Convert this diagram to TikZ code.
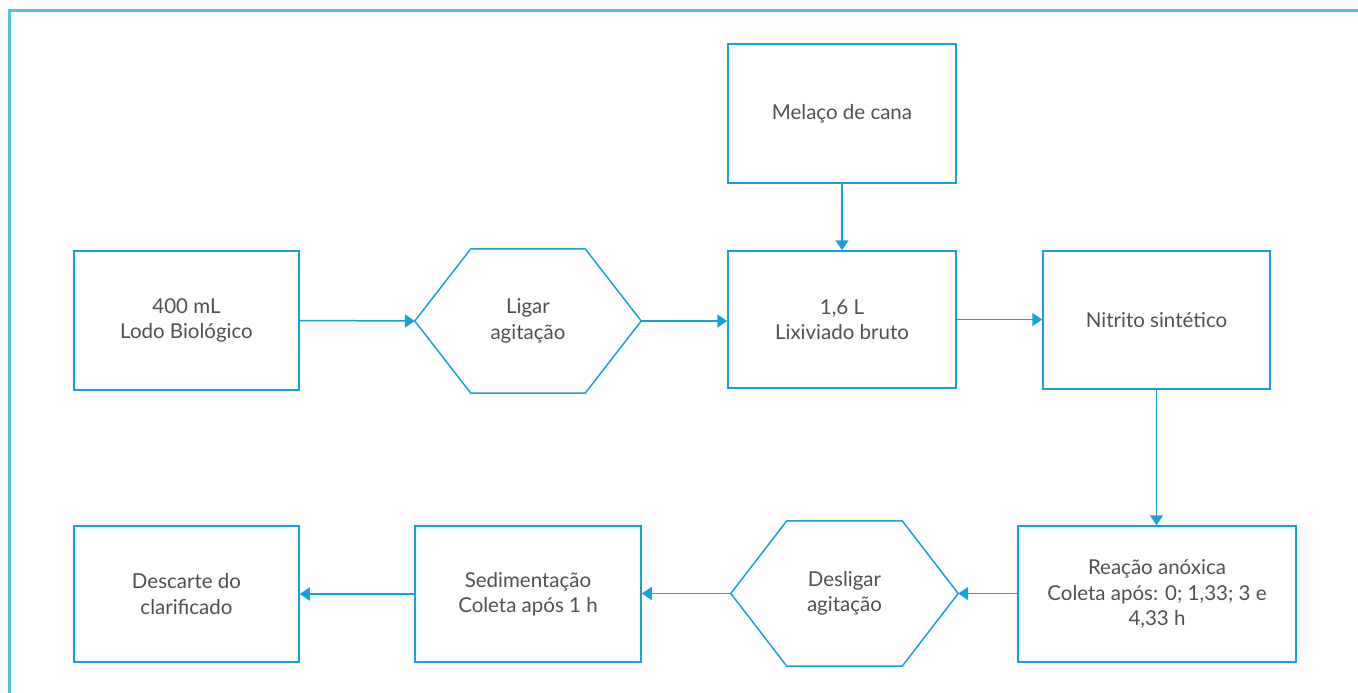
\documentclass[tikz,border=0pt]{standalone}
\usepackage{fontspec}
\setmainfont{Lato}
\usetikzlibrary{arrows.meta}
\definecolor{boxc}{RGB}{26,160,216}
\definecolor{framec}{RGB}{84,190,229}
\definecolor{txtc}{RGB}{80,80,80}
\tikzset{
  box/.style={draw=boxc, line width=1.5pt, minimum width=#1, align=center, text=txtc, font=\fontsize{20.5}{25.5}\selectfont, inner sep=0pt},
  hexbox/.style={draw=none, minimum width=#1, align=center, text=txtc, font=\fontsize{20.5}{25.5}\selectfont, inner sep=0pt},
  hexline/.style={draw=boxc, line width=1.5pt},
  conn/.style={draw=boxc, line width=1.5pt, -{Triangle[length=10pt,width=13pt]}},
}
\begin{document}
\begin{tikzpicture}[x=1pt,y=-1pt]
\useasboundingbox (0,0) rectangle (1358,693);
% frame
\draw[framec, line width=3pt] (9,693) -- (9,11) -- (1358,11);
% nodes
\node[box=228pt, minimum height=139pt] (mel) at (842,113.5) {Melaço de cana};
\node[box=225pt, minimum height=139pt] (lodo) at (186.5,320.5) {400 mL\\Lodo Biológico};
\node[hexbox=226pt, minimum height=144pt] (lig) at (528,321) {Ligar\\agitação};
\node[box=228pt, minimum height=137pt] (lix) at (842,319.5) {1,6 L\\Lixiviado bruto};
\node[box=227pt, minimum height=138pt] (nit) at (1156.5,320) {Nitrito sintético};
\node[box=278pt, minimum height=136pt] (rea) at (1157,594) {Reação anóxica\\Coleta após: 0; 1,33; 3 e\\4,33 h};
\node[hexbox=227pt, minimum height=145pt] (des) at (844.5,593.5) {Desligar\\agitação};
\node[box=226pt, minimum height=136pt] (sed) at (528,594) {Sedimentação\\Coleta após 1 h};
\node[box=225pt, minimum height=136pt] (desc) at (186.5,594) {Descarte do\\clarificado};
% hexagon outlines
\draw[hexline] (lig.west) -- ([xshift=56pt]lig.north west) -- ([xshift=-56pt]lig.north east) -- (lig.east) -- ([xshift=-56pt]lig.south east) -- ([xshift=56pt]lig.south west) -- cycle;
\draw[hexline] (des.west) -- ([xshift=56pt]des.north west) -- ([xshift=-56pt]des.north east) -- (des.east) -- ([xshift=-56pt]des.south east) -- ([xshift=56pt]des.south west) -- cycle;
% connectors
\draw[conn] (lodo.east) -- (lig.west);
\draw[conn] (lig.east) -- (lix.west |- lig.east);
\draw[conn] (mel.south) -- (lix.north);
\draw[conn] (lix.east) -- (nit.west |- lix.east);
\draw[conn] (nit.south) -- (nit.south |- rea.north);
\draw[conn] (rea.west |- des.east) -- (des.east);
\draw[conn] (des.west) -- (sed.east |- des.west);
\draw[conn] (sed.west) -- (desc.east);
\end{tikzpicture}
\end{document}
